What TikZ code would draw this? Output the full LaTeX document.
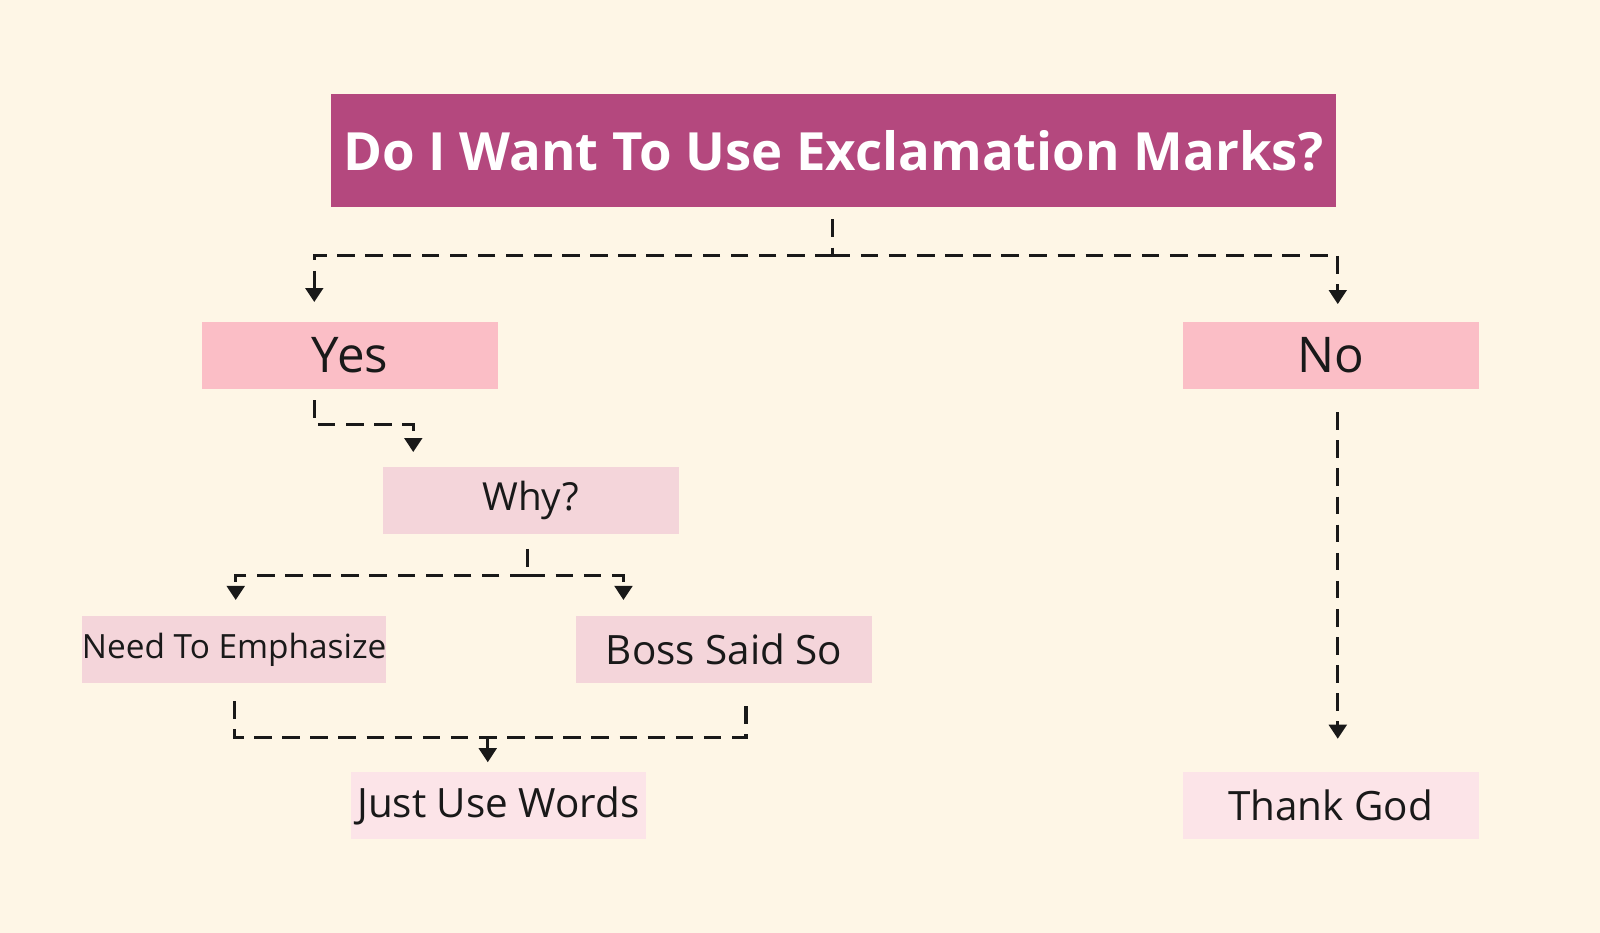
\documentclass[tikz,border=0pt]{standalone}
\usepackage{fontspec}
\setmainfont{Open Sans}
\usetikzlibrary{arrows.meta}
\definecolor{bg}{HTML}{FEF6E6}
\definecolor{titlec}{HTML}{B4487E}
\definecolor{pinkA}{HTML}{FBBEC6}
\definecolor{pinkB}{HTML}{F4D5DA}
\definecolor{pinkC}{HTML}{FCE4E8}
\tikzset{
 box/.style={inner sep=0pt, minimum width=290*0.010204cm, minimum height=65*0.010204cm, text=black!90},
 conn/.style={draw=black!90, dashed, dash pattern=on 5pt off 3pt, line width=0.9pt},
 arr/.style={conn, -{Triangle[length=4pt,width=5pt]}}
}
\begin{document}
\begin{tikzpicture}[x=0.010204cm,y=-0.010204cm]
\fill[bg] (0,0) rectangle (1568,914);
\useasboundingbox (0,0) rectangle (1568,914);
\node[fill=titlec, minimum width=985*0.010204cm, minimum height=111*0.010204cm, text=white, font=\bfseries\fontsize{15}{18}\selectfont] (t) at (816.5,147.5) {Do I Want To Use Exclamation Marks?};
\node[box, fill=pinkA, font=\fontsize{14}{17}\selectfont] (yes) at (343,348.5) {Yes};
\node[box, fill=pinkA, font=\fontsize{14}{17}\selectfont] (no) at (1304,348.5) {No};
\node[box, fill=pinkB, font=\fontsize{11}{13}\selectfont] (why) at (520,490.5) {Why?};
\node[box, fill=pinkB, font=\fontsize{9.5}{12}\selectfont] (need) at (229.5,636.5) {Need To Emphasize};
\node[box, fill=pinkB, font=\fontsize{11.5}{14}\selectfont] (boss) at (709.5,636.5) {Boss Said So};
\node[box, fill=pinkC, font=\fontsize{11.5}{14}\selectfont] (just) at (488.5,789.5) {Just Use Words};
\node[box, fill=pinkC, font=\fontsize{11.5}{14}\selectfont] (thank) at (1304,789.5) {Thank God};
\coordinate (tb) at (816,215);
\coordinate (tm) at (816,250);
\draw[conn] (tb) -- (tm);
\draw[arr] (tm) -| (308,296);
\draw[arr] (tm) -| (1311,298);
\draw[arr] (308,392) |- (405,416) -- (405,443);
\coordinate (wb) at (517,538);
\coordinate (wm) at (517,564);
\draw[conn] (wb) -- (wm);
\draw[arr] (wm) -| (231,588);
\draw[arr] (wm) -| (611,588);
\draw[conn] (230,687) |- (731,723) -- (731,687);
\draw[arr] (478,723) -- (478,747);
\draw[arr] (1311,404) -- (1311,724);
\end{tikzpicture}
\end{document}
